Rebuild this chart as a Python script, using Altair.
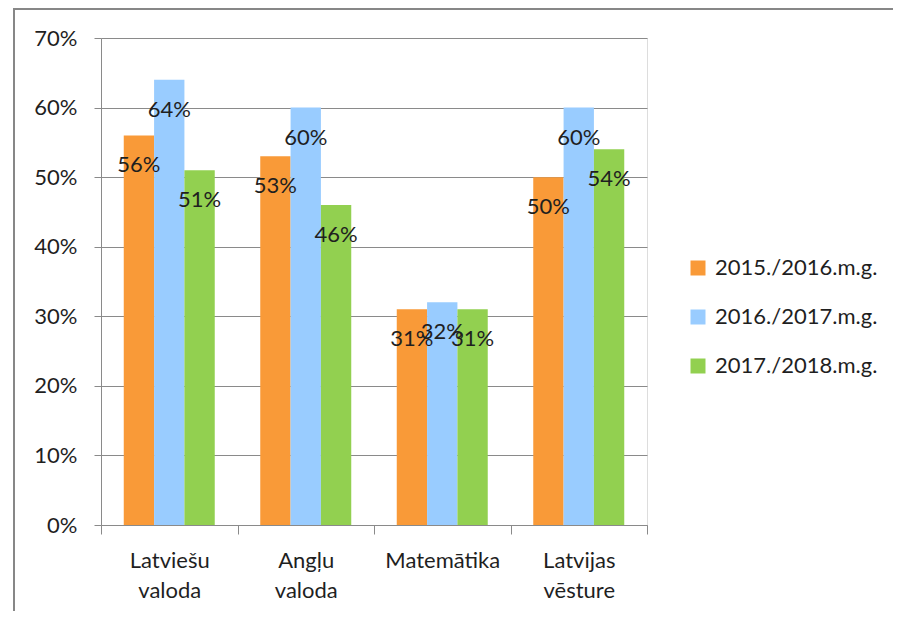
import altair as alt
import pandas as pd

categories = ["Latviešu valoda", "Angļu valoda", "Matemātika", "Latvijas vēsture"]
series = ["2015./2016.m.g.", "2016./2017.m.g.", "2017./2018.m.g."]
values_2015 = [0.56, 0.53, 0.31, 0.50]
values_2016 = [0.64, 0.60, 0.32, 0.60]
values_2017 = [0.51, 0.46, 0.31, 0.54]
colors = ["#F99A38", "#99CCFF", "#92D050"]

rows = []
for s, vals in zip(series, [values_2015, values_2016, values_2017]):
    for c, v in zip(categories, vals):
        rows.append({"cat": c, "series": s, "value": v})
df = pd.DataFrame(rows)

FONT = "Lato"
TXT = "#1f1f1f"
GRID = "#8a8a8a"

x_enc = alt.X("cat:N", sort=categories, title=None,
              scale=alt.Scale(paddingInner=0, paddingOuter=0),
              axis=alt.Axis(labelAngle=0, tickBand="extent", labelExpr="split(datum.label, ' ')",
                            labelLineHeight=30, labelPadding=16, tickSize=9,
                            labelFontSize=22, labelFont=FONT, labelColor=TXT,
                            domainColor=GRID, tickColor=GRID, grid=False))
xoff = alt.XOffset("series:N", sort=series, scale=alt.Scale(paddingInner=0, paddingOuter=0.75))
y_enc = alt.Y("value:Q", title=None,
              scale=alt.Scale(domain=[0, 0.7], nice=False),
              axis=alt.Axis(format=".0%", values=[0, 0.1, 0.2, 0.3, 0.4, 0.5, 0.6, 0.7],
                            tickSize=7, labelPadding=17, labelFontSize=22, labelFont=FONT,
                            labelColor=TXT, domainColor=GRID, tickColor=GRID,
                            gridColor=GRID, grid=True))

bars = alt.Chart(df).mark_bar(strokeWidth=0).encode(
    x=x_enc, xOffset=xoff, y=y_enc,
    color=alt.Color("series:N", sort=series, title=None,
                    scale=alt.Scale(domain=series, range=colors),
                    legend=alt.Legend(orient="none", legendX=586, legendY=219,
                                      symbolType="square", symbolSize=225, symbolStrokeWidth=0,
                                      labelFontSize=22, labelFont=FONT, labelColor=TXT,
                                      labelLimit=0, labelOffset=6, rowPadding=27, padding=0)),
)

labels = alt.Chart(df).mark_text(baseline="middle", align="center", dy=30,
                                 fontSize=22, font=FONT, color=TXT).encode(
    x=alt.X("cat:N", sort=categories), xOffset=alt.XOffset("series:N", sort=series), y="value:Q",
    text=alt.Text("value:Q", format=".0%"),
)

frame_df = pd.DataFrame({"a": [0]})
frame_top = alt.Chart(frame_df).mark_rule(stroke="#878787", strokeWidth=2).encode(
    x=alt.value(-88), x2=alt.value(800), y=alt.value(-29)
)
frame_left = alt.Chart(frame_df).mark_rule(stroke="#878787", strokeWidth=2).encode(
    x=alt.value(-87), y=alt.value(-30), y2=alt.value(600)
)

chart = alt.layer(frame_top, frame_left, bars, labels).properties(
    width=546, height=487,
    autosize=alt.AutoSizeParams(type="none"),
    padding={"left": 93, "top": 30, "right": 246, "bottom": 86},
).configure_view(stroke=None).configure(background="white")

chart.save("out.html", embed_options={"renderer": "svg", "actions": False})
